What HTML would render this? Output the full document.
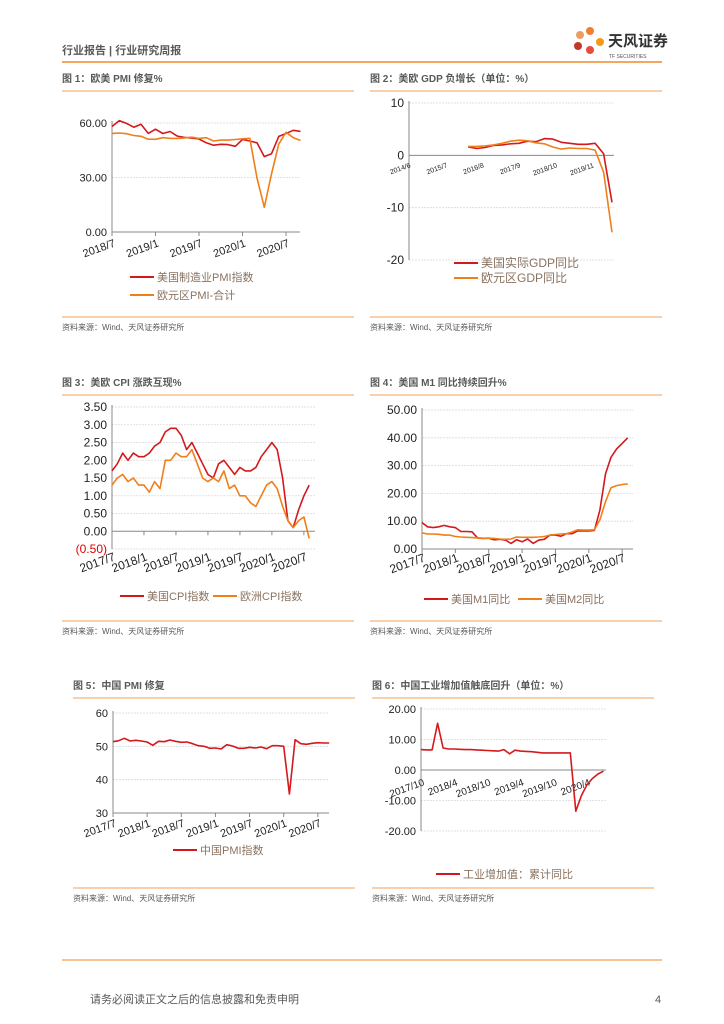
<!DOCTYPE html>
<html><head><meta charset="utf-8"><style>
html,body{margin:0;padding:0;background:#fff;}
svg{display:block;font-family:"Liberation Sans","Noto Sans CJK SC",sans-serif;}
</style></head><body>
<svg id="page" width="724" height="1024" viewBox="0 0 724 1024" xmlns="http://www.w3.org/2000/svg">
<g>
<text x="62" y="54" font-size="11" font-weight="bold" fill="#595959">行业报告 | 行业研究周报</text>
<g>
<circle cx="580" cy="35" r="4" fill="#e8a060"/><circle cx="590" cy="31" r="4" fill="#f08030"/><circle cx="578" cy="46" r="4" fill="#c0392b"/><circle cx="590" cy="50" r="4" fill="#e74c3c"/><circle cx="600" cy="42" r="4" fill="#f39c12"/>
<text x="608" y="46" font-size="15" font-weight="bold" fill="#333">天风证券</text>
<text x="609" y="58" font-size="5" fill="#555">TF SECURITIES</text>
</g>
<line x1="62" y1="62" x2="662" y2="62" stroke="#f08a2c" stroke-width="1.5"/>
</g>
<g id="charts"></g>
<g>
<line x1="62" y1="960" x2="662" y2="960" stroke="#f08a2c" stroke-width="1"/>
<text x="90" y="1003" font-size="11" fill="#595959">请务必阅读正文之后的信息披露和免责申明</text>
<text x="655" y="1003" font-size="11" fill="#595959">4</text>
</g>
</svg>
<script>
const c1Cats = ["2018/7","2019/1","2019/7","2020/1","2020/7"];
const c1US = [58.1,61.3,59.8,57.7,59.3,54.3,56.6,54.2,55.3,52.8,52.1,51.7,51.2,49.1,47.8,48.3,48.1,47.2,50.9,50.1,49.1,41.5,43.1,52.6,54.2,56.0,55.4];
const c1EU = [54.3,54.5,54.1,53.1,52.7,51.1,51.0,51.9,51.6,51.5,51.8,52.2,51.5,51.9,50.1,50.6,50.6,50.9,51.3,51.6,29.7,13.6,31.9,48.5,54.9,51.9,50.4];
const c1Ticks = ["0.00","30.00","60.00"];
const c1TickVals = [0,30,60];

const c2Cats = ["2014/6","2015/7","2016/8","2017/9","2018/10","2019/11"];
const c2US = [1.6,1.3,1.5,1.9,2.0,2.2,2.3,2.7,2.6,3.2,3.1,2.5,2.3,2.1,2.1,2.3,0.3,-9.0];
const c2EU = [1.7,1.7,1.8,2.0,2.3,2.7,2.9,2.8,2.4,2.2,1.6,1.2,1.4,1.3,1.3,1.0,-3.2,-14.7];
const c2Ticks = ["10","0","-10","-20"];
const c2TickVals = [10,0,-10,-20];

const c3Cats = ["2017/7","2018/1","2018/7","2019/1","2019/7","2020/1","2020/7"];
const c3US = [1.7,1.9,2.2,2.0,2.2,2.1,2.1,2.2,2.4,2.5,2.8,2.9,2.9,2.7,2.3,2.5,2.2,1.9,1.6,1.5,1.9,2.0,1.8,1.6,1.8,1.7,1.7,1.8,2.1,2.3,2.5,2.3,1.5,0.3,0.1,0.6,1.0,1.3];
const c3EU = [1.3,1.5,1.6,1.4,1.5,1.3,1.3,1.1,1.4,1.2,2.0,2.0,2.2,2.1,2.1,2.3,1.9,1.5,1.4,1.5,1.4,1.7,1.2,1.3,1.0,1.0,0.8,0.7,1.0,1.3,1.4,1.2,0.7,0.3,0.1,0.3,0.4,-0.2];
const c3Ticks = ["3.50","3.00","2.50","2.00","1.50","1.00","0.50","0.00","(0.50)"];
const c3TickVals = [3.5,3,2.5,2,1.5,1,0.5,0,-0.5];

const c4Cats = ["2017/7","2018/1","2018/7","2019/1","2019/7","2020/1","2020/7"];
const c4M1 = [9.5,8,7.7,8,8.5,8,7.7,6.3,6.3,6.2,4,3.8,3.9,3.3,3.5,3.2,2,3.3,2.6,3.6,2,3.2,3.5,5,5,4.6,5.5,5.5,6.5,6.5,6.5,6.7,14,27,33,36,38,40];
const c4M2 = [5.8,5.4,5.4,5.3,5,5,4.5,4.3,4.2,4.1,4,3.9,3.9,3.8,3.6,3.5,3.6,4.3,4.2,4.2,4.2,4.3,4.5,5,5.2,5.4,5.5,6.1,6.9,6.8,6.8,6.9,10.5,17,22,22.8,23.2,23.4];
const c4Ticks = ["50.00","40.00","30.00","20.00","10.00","0.00"];
const c4TickVals = [50,40,30,20,10,0];

const c5Cats = ["2017/7","2018/1","2018/7","2019/1","2019/7","2020/1","2020/7"];
const c5PMI = [51.4,51.7,52.4,51.6,51.8,51.6,51.3,50.3,51.5,51.4,51.9,51.5,51.2,51.3,50.8,50.2,50.0,49.4,49.5,49.2,50.5,50.1,49.4,49.4,49.7,49.5,49.8,49.3,50.2,50.2,50.0,35.7,52.0,50.8,50.6,50.9,51.1,51.0,51.0];
const c5Ticks = ["60","50","40","30"];
const c5TickVals = [60,50,40,30];

const c6Cats = ["2017/10","2018/4","2018/10","2019/4","2019/10","2020/4"];
const c6IVA = [6.7,6.6,6.6,15.3,7.2,6.9,6.9,6.8,6.7,6.7,6.6,6.5,6.4,6.3,6.2,6.7,5.3,6.5,6.2,6.1,6.0,5.8,5.6,5.6,5.6,5.6,5.6,5.6,-13.5,-8.4,-4.9,-2.8,-1.3,-0.4];
const c6Ticks = ["20.00","10.00","0.00","-10.00","-20.00"];
const c6TickVals = [20,10,0,-10,-20];

const RED = "#d4191c", ORG = "#f07f1a", LEG = "#8a7260";
const NS = "http://www.w3.org/2000/svg";
const root = document.getElementById("charts");
function mk(tag, attrs, parent, txt){
  const e = document.createElementNS(NS, tag);
  for (const k in attrs) e.setAttribute(k, attrs[k]);
  if (txt !== undefined) e.textContent = txt;
  (parent || root).appendChild(e);
  return e;
}

function panel(o){
  const W = o.w || 292;
  const g = mk("g", {});
  
  
  const t = mk("text", {x:o.px, y:o.titleY, "font-size":"10", "font-weight":"bold", fill:"#595959"}, g, o.title);
  
  
  mk("line", {x1:o.px, x2:o.px+W, y1:o.titleY+9, y2:o.titleY+9, stroke:"#f5c08f", "stroke-width":"1.5"}, g);
  mk("line", {x1:o.px, x2:o.px+W, y1:o.srcY, y2:o.srcY, stroke:"#f5c08f", "stroke-width":"1.5"}, g);
  const s = mk("text", {x:o.px, y:o.srcY+13, "font-size":"8", fill:"#595959"}, g, "资料来源：Wind、天风证券研究所");
  
  
  const Y = v => o.yTop + (o.yMax - v) / (o.yMax - o.yMin) * (o.yBot - o.yTop);
  const X = i => o.xs + i * o.dx;
  o.tickVals.forEach((v, k) => {
    const y = Y(v);
    if (Math.abs(y - Y(o.base)) > 0.5)
      mk("line", {x1:o.axisX, x2:o.axisR, y1:y, y2:y, stroke:"#d9d9d9", "stroke-width":"0.8", "stroke-dasharray":"2,1"}, g);
    const lb = mk("text", {x:o.axisX-5, y:y+4, "font-size":o.yfs, "text-anchor":"end", fill:(o.tickLabels[k].startsWith("(")?"#e00000":"#222")}, g, o.tickLabels[k]);
    
    
  });
  mk("line", {x1:o.axisX, x2:o.axisX, y1:o.yTop-2, y2:o.yBot, stroke:"#888", "stroke-width":"1"}, g);
  const by = Y(o.base);
  mk("line", {x1:o.axisX, x2:o.axisR, y1:by, y2:by, stroke:"#888", "stroke-width":"1"}, g);
  o.cats.forEach((c, k) => {
    const x = X(k * o.every);
    if (o.tickMarks) mk("line", {x1:x, x2:x, y1:by, y2:by+4, stroke:"#888"}, g);
    const lx = x + (o.lxOff||0), ly = o.labelY;
    const lb = mk("text", {x:lx, y:ly, "font-size":o.xfs, "text-anchor":"end", fill:"#222", transform:`rotate(${o.rot} ${lx} ${ly})`}, g, c);
    
    
  });
  o.series.forEach(s => {
    const off = s.off || 0, step = s.step || 1;
    const pts = s.data.map((v, i) => X(off + i * step).toFixed(1) + "," + Y(v).toFixed(1)).join(" ");
    const p = mk("polyline", {points:pts, fill:"none", stroke:s.color, "stroke-width":"1.6", "stroke-linejoin":"round"}, g);
    
    
  });
  o.legend.forEach(l => {
    const lg = mk("g", {}, g);
    
    
    mk("line", {x1:l.x, x2:l.x+24, y1:l.y-4, y2:l.y-4, stroke:l.color, "stroke-width":"2"}, lg);
    mk("text", {x:l.x+27, y:l.y, "font-size":l.fs||11, fill:LEG}, lg, l.text);
  });
}

panel({name:"chart-1-pmi", px:62, titleY:82, srcY:317, title:"图 1：欧美 PMI 修复%",
  yTop:123, yBot:232, yMax:60, yMin:0, base:0, axisX:112, axisR:300,
  xs:112, dx:7.25, every:6, cats:c1Cats, labelY:246, rot:-20, xfs:11, yfs:11, tickMarks:true, lxOff:4,
  tickVals:c1TickVals, tickLabels:c1Ticks,
  series:[{name:"us-pmi-line",data:c1US,color:RED},{name:"eu-pmi-line",data:c1EU,color:ORG}],
  legend:[{x:130,y:281,text:"美国制造业PMI指数",color:RED},{x:130,y:299,text:"欧元区PMI-合计",color:ORG}]});

panel({name:"chart-2-gdp", px:370, titleY:82, srcY:317, title:"图 2：美欧 GDP 负增长（单位：%）",
  yTop:103, yBot:260, yMax:10, yMin:-20, base:0, axisX:409, axisR:614,
  xs:409, dx:2.82, every:13, cats:c2Cats, labelY:167, rot:-20, xfs:7, yfs:12, tickMarks:false, lxOff:2,
  tickVals:c2TickVals, tickLabels:c2Ticks,
  series:[{name:"us-gdp-line",data:c2US,color:RED,off:21,step:3},{name:"eu-gdp-line",data:c2EU,color:ORG,off:21,step:3}],
  legend:[{x:454,y:267,text:"美国实际GDP同比",color:RED,fs:12},{x:454,y:282,text:"欧元区GDP同比",color:ORG,fs:12}]});

panel({name:"chart-3-cpi", px:62, titleY:386, srcY:621, title:"图 3：美欧 CPI 涨跌互现%",
  yTop:407, yBot:549, yMax:3.5, yMin:-0.5, base:0, axisX:112, axisR:315,
  xs:112, dx:5.33, every:6, cats:c3Cats, labelY:560, rot:-20, xfs:12, yfs:12, tickMarks:true, lxOff:4,
  tickVals:c3TickVals, tickLabels:c3Ticks,
  series:[{name:"us-cpi-line",data:c3US,color:RED},{name:"eu-cpi-line",data:c3EU,color:ORG}],
  legend:[{x:120,y:600,text:"美国CPI指数",color:RED},{x:213,y:600,text:"欧洲CPI指数",color:ORG}]});

panel({name:"chart-4-m1", px:370, titleY:386, srcY:621, title:"图 4：美国 M1 同比持续回升%",
  yTop:410, yBot:549, yMax:50, yMin:0, base:0, axisX:422, axisR:633,
  xs:422, dx:5.56, every:6, cats:c4Cats, labelY:561, rot:-20, xfs:12, yfs:12, tickMarks:true, lxOff:4,
  tickVals:c4TickVals, tickLabels:c4Ticks,
  series:[{name:"us-m1-line",data:c4M1,color:RED},{name:"us-m2-line",data:c4M2,color:ORG}],
  legend:[{x:424,y:603,text:"美国M1同比",color:RED},{x:518,y:603,text:"美国M2同比",color:ORG}]});

panel({name:"chart-5-china-pmi", px:73, w:282, titleY:689, srcY:888, title:"图 5：中国 PMI 修复",
  yTop:713, yBot:813, yMax:60, yMin:30, base:30, axisX:113, axisR:329,
  xs:113, dx:5.69, every:6, cats:c5Cats, labelY:826, rot:-20, xfs:11, yfs:11, tickMarks:true, lxOff:4,
  tickVals:c5TickVals, tickLabels:c5Ticks,
  series:[{name:"china-pmi-line",data:c5PMI,color:RED}],
  legend:[{x:173,y:854,text:"中国PMI指数",color:RED}]});

panel({name:"chart-6-industrial", px:372, w:282, titleY:689, srcY:888, title:"图 6：中国工业增加值触底回升（单位：%）",
  yTop:709, yBot:831, yMax:20, yMin:-20, base:0, axisX:421, axisR:606,
  xs:421, dx:5.53, every:6, cats:c6Cats, labelY:785, rot:-20, xfs:10, yfs:11, tickMarks:false, lxOff:4,
  tickVals:c6TickVals, tickLabels:c6Ticks,
  series:[{name:"industrial-va-line",data:c6IVA,color:RED}],
  legend:[{x:436,y:878,text:"工业增加值：累计同比",color:RED}]});
</script>
</body></html>
